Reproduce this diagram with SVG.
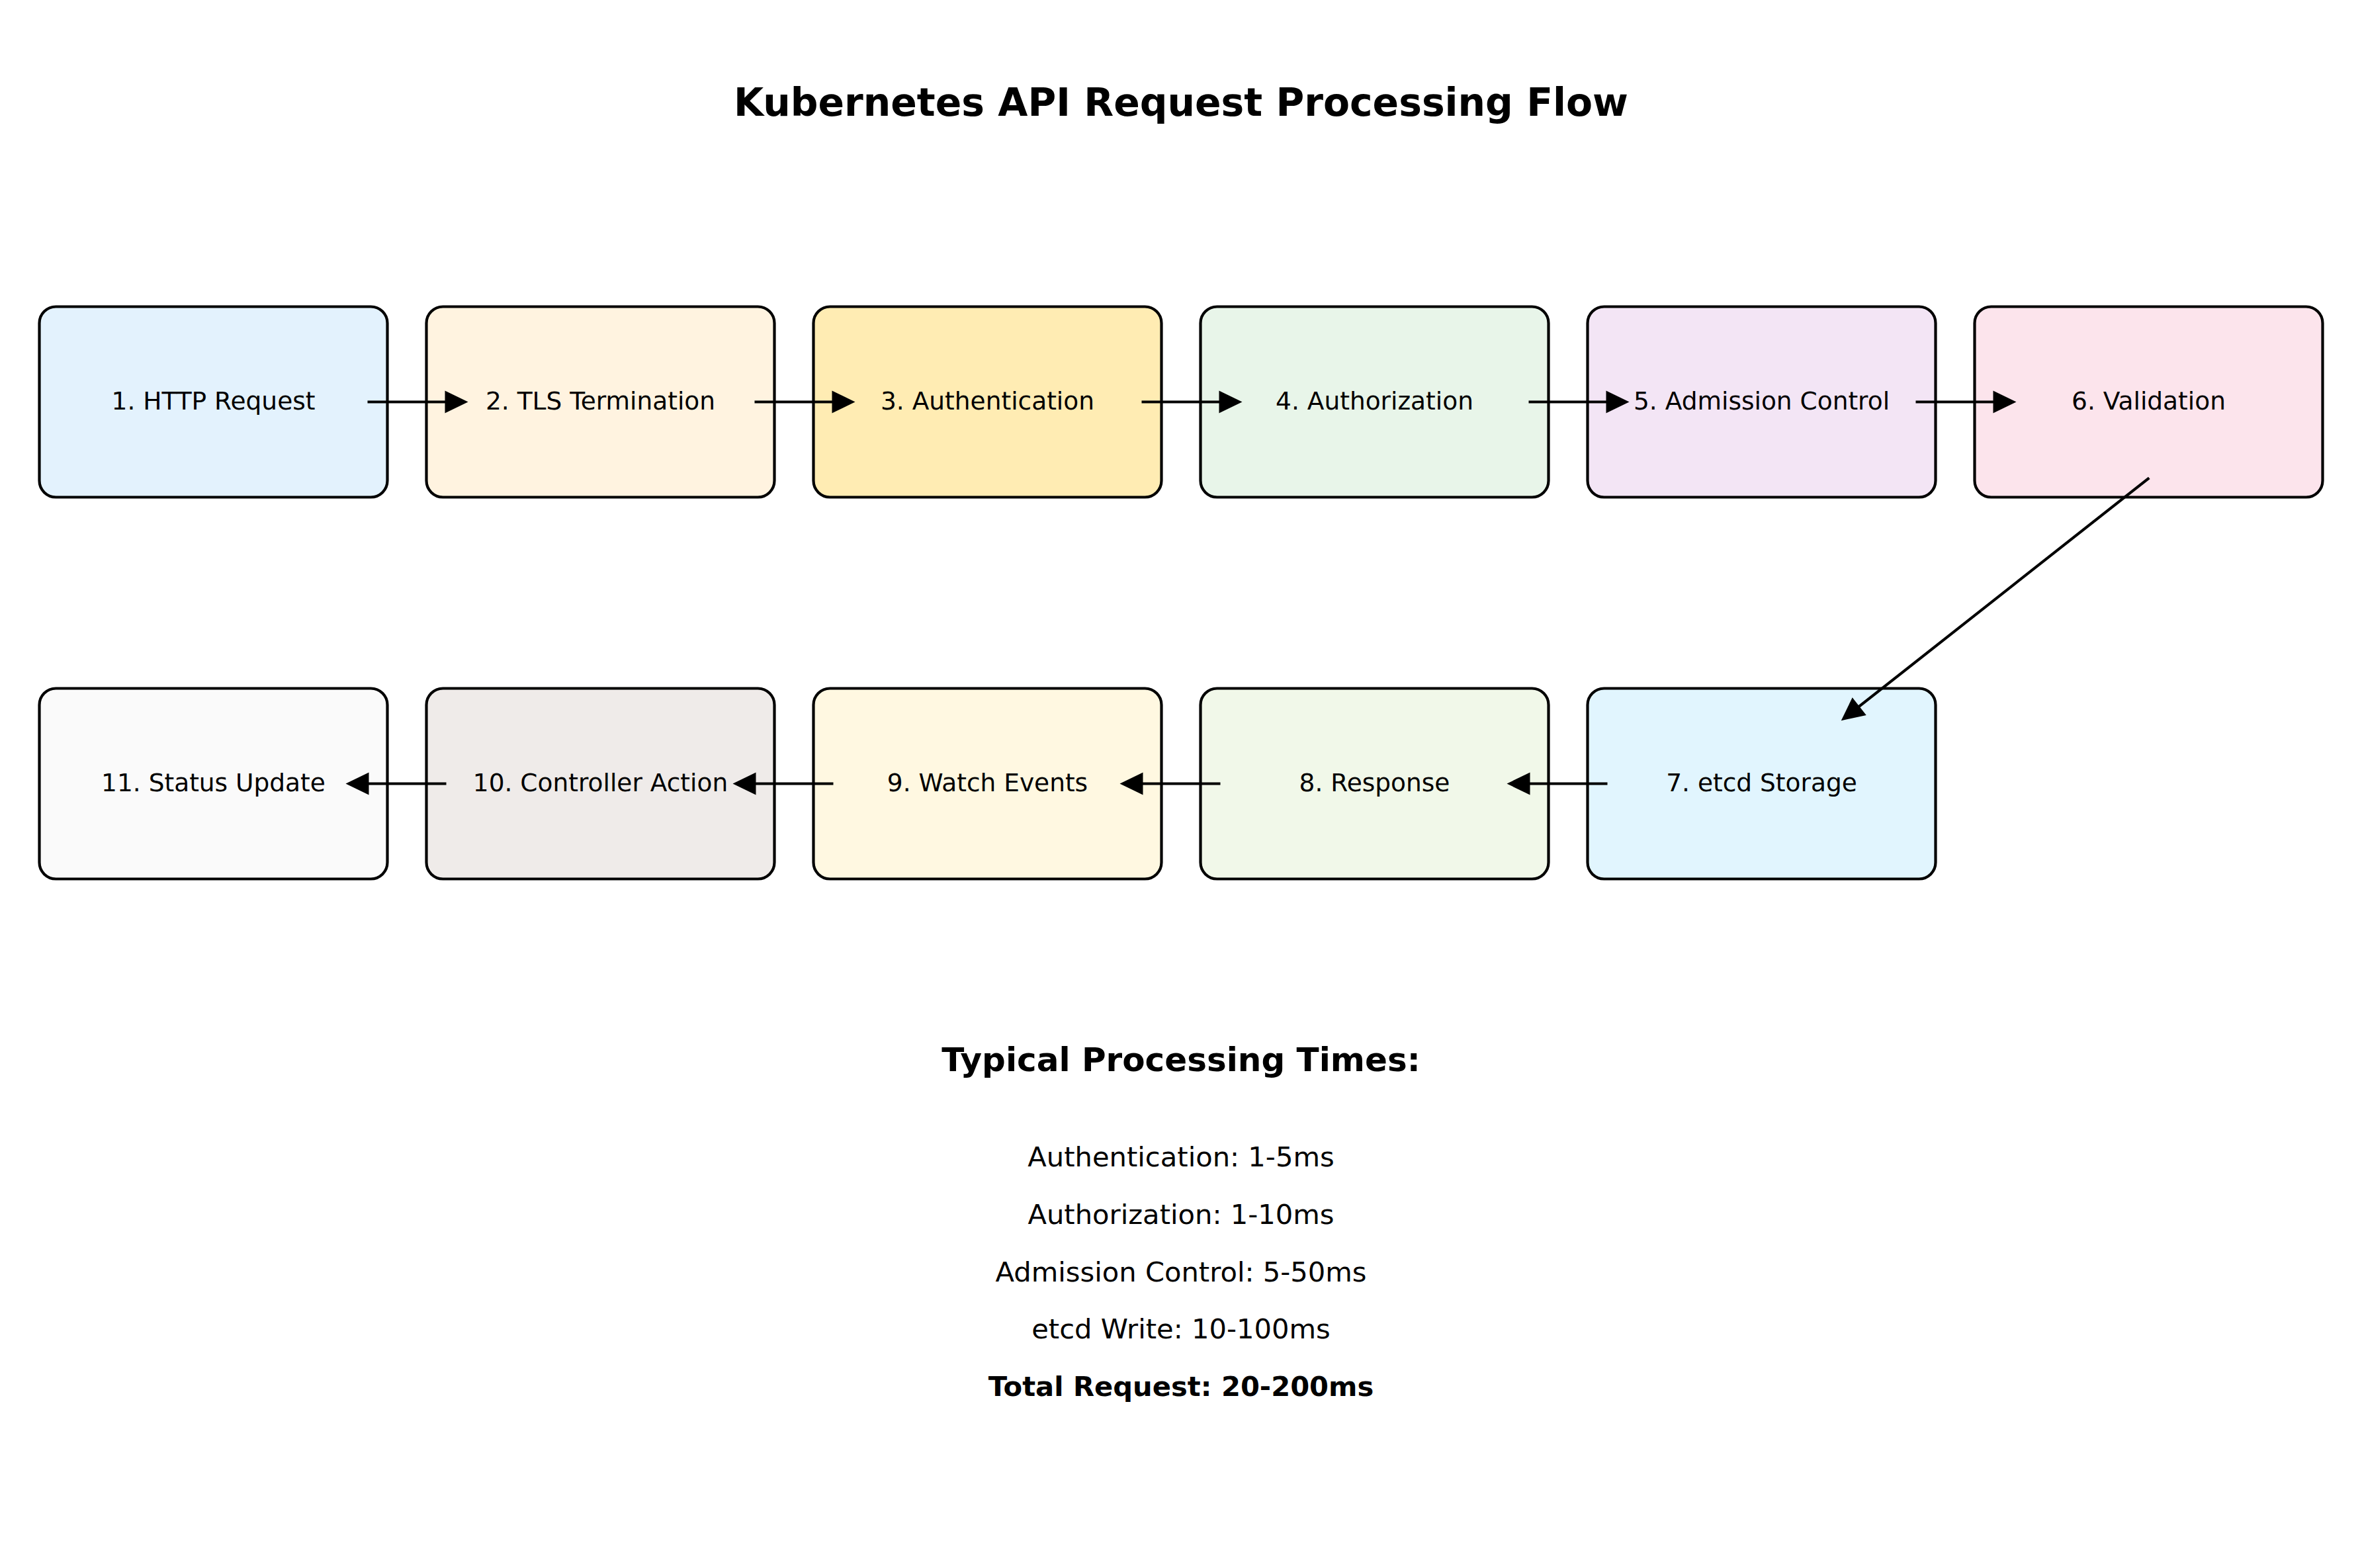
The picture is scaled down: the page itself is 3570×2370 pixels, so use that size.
<svg xmlns="http://www.w3.org/2000/svg" width="3570" height="2370" viewBox="0 0 3570 2370">
<style>
  text { font-family: "DejaVu Sans", "Liberation Sans", sans-serif; fill: #000; text-anchor: middle; }
  .title { font-size: 58.33px; font-weight: bold; }
  .lbl { font-size: 37.5px; }
  .head { font-size: 50px; font-weight: bold; }
  .item { font-size: 41.67px; }
  .bold { font-weight: bold; }
  .box { stroke: #000; stroke-width: 4.2; }
  .conn { stroke: #000; stroke-width: 4.2; fill: none; marker-end: url(#ah); }
</style>
<defs>
  <marker id="ah" markerUnits="userSpaceOnUse" markerWidth="36" markerHeight="36" refX="5" refY="17" orient="auto" overflow="visible">
    <path d="M0,0 L35,17 L0,34 z" fill="#000"/>
  </marker>
</defs>
<rect width="3570" height="2370" fill="#fff"/>
<text class="title" x="1785" y="175">Kubernetes API Request Processing Flow</text>

<g id="n1"><rect class="box" x="59.5" y="463.5" width="526" height="288" rx="25" fill="#E3F2FD"/><text class="lbl" x="322.5" y="618.5">1. HTTP Request</text></g>
<g id="n2"><rect class="box" x="644.5" y="463.5" width="526" height="288" rx="25" fill="#FFF3E0"/><text class="lbl" x="907.5" y="618.5">2. TLS Termination</text></g>
<g id="n3"><rect class="box" x="1229.5" y="463.5" width="526" height="288" rx="25" fill="#FFECB3"/><text class="lbl" x="1492.5" y="618.5">3. Authentication</text></g>
<g id="n4"><rect class="box" x="1814.5" y="463.5" width="526" height="288" rx="25" fill="#E8F5E9"/><text class="lbl" x="2077.5" y="618.5">4. Authorization</text></g>
<g id="n5"><rect class="box" x="2399.5" y="463.5" width="526" height="288" rx="25" fill="#F3E5F5"/><text class="lbl" x="2662.5" y="618.5">5. Admission Control</text></g>
<g id="n6"><rect class="box" x="2984.5" y="463.5" width="526" height="288" rx="25" fill="#FCE4EC"/><text class="lbl" x="3247.5" y="618.5">6. Validation</text></g>

<g id="n7"><rect class="box" x="2399.5" y="1040.5" width="526" height="288" rx="25" fill="#E1F5FE"/><text class="lbl" x="2662.5" y="1195.5">7. etcd Storage</text></g>
<g id="n8"><rect class="box" x="1814.5" y="1040.5" width="526" height="288" rx="25" fill="#F1F8E9"/><text class="lbl" x="2077.5" y="1195.5">8. Response</text></g>
<g id="n9"><rect class="box" x="1229.5" y="1040.5" width="526" height="288" rx="25" fill="#FFF8E1"/><text class="lbl" x="1492.5" y="1195.5">9. Watch Events</text></g>
<g id="n10"><rect class="box" x="644.5" y="1040.5" width="526" height="288" rx="25" fill="#EFEBE9"/><text class="lbl" x="907.5" y="1195.5">10. Controller Action</text></g>
<g id="n11"><rect class="box" x="59.5" y="1040.5" width="526" height="288" rx="25" fill="#FAFAFA"/><text class="lbl" x="322.5" y="1195.5">11. Status Update</text></g>

<g id="connectors">
  <line class="conn" x1="555.5" y1="607.5" x2="677.5" y2="607.5"/>
  <line class="conn" x1="1140.5" y1="607.5" x2="1262.5" y2="607.5"/>
  <line class="conn" x1="1725.5" y1="607.5" x2="1847.5" y2="607.5"/>
  <line class="conn" x1="2310.5" y1="607.5" x2="2432.5" y2="607.5"/>
  <line class="conn" x1="2895.5" y1="607.5" x2="3017.5" y2="607.5"/>
  <line class="conn" x1="3248.3" y1="722.3" x2="2806.3" y2="1070.7"/>
  <line class="conn" x1="2429.5" y1="1184.5" x2="2307.5" y2="1184.5"/>
  <line class="conn" x1="1844.5" y1="1184.5" x2="1722.5" y2="1184.5"/>
  <line class="conn" x1="1259.5" y1="1184.5" x2="1137.5" y2="1184.5"/>
  <line class="conn" x1="674.5" y1="1184.5" x2="552.5" y2="1184.5"/>
</g>

<g id="times">
  <text class="head" x="1785" y="1619.3">Typical Processing Times:</text>
  <text class="item" x="1785" y="1763.3">Authentication: 1-5ms</text>
  <text class="item" x="1785" y="1850">Authorization: 1-10ms</text>
  <text class="item" x="1785" y="1936.7">Admission Control: 5-50ms</text>
  <text class="item" x="1785" y="2023.3">etcd Write: 10-100ms</text>
  <text class="item bold" x="1785" y="2110">Total Request: 20-200ms</text>
</g>
</svg>
